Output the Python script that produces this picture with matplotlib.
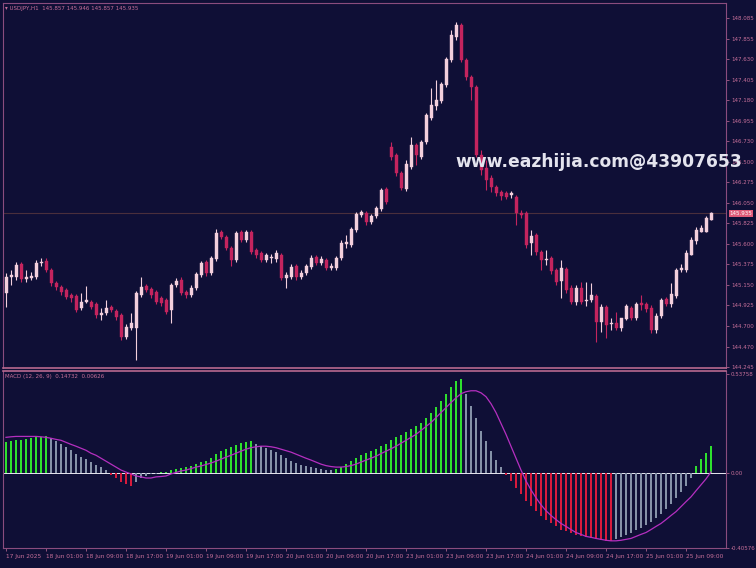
import numpy as np
import matplotlib
matplotlib.use("Agg")
import matplotlib.pyplot as plt

# ---------------- data ----------------
symbol_title = "USDJPY,H1  145.857 145.946 145.857 145.935"
macd_title = "MACD (12, 26, 9)  0.14732  0.00626"

x_labels = ["17 Jun 2025", "18 Jun 01:00", "18 Jun 09:00", "18 Jun 17:00", "19 Jun 01:00",
            "19 Jun 09:00", "19 Jun 17:00", "20 Jun 01:00", "20 Jun 09:00", "20 Jun 17:00",
            "23 Jun 01:00", "23 Jun 09:00", "23 Jun 17:00", "24 Jun 01:00", "24 Jun 09:00",
            "24 Jun 17:00", "25 Jun 01:00", "25 Jun 09:00"]
x_label_step = 8

price_ticks = [148.085, 147.855, 147.630, 147.405, 147.180, 146.955, 146.730, 146.500,
               146.275, 146.050, 145.825, 145.600, 145.375, 145.150, 144.925, 144.700,
               144.470, 144.245]
last_price = 145.935
macd_ticks = [0.53758, 0.0, -0.40576]
macd_tick_labels = ["0.53758", "0.00", "-0.40576"]

opens = [145.059, 145.235, 145.235, 145.378, 145.213, 145.224, 145.235, 145.389, 145.411, 145.312,
         145.169, 145.125, 145.092, 145.037, 145.026, 144.894, 144.960, 144.960, 144.938, 144.817,
         144.839, 144.905, 144.861, 144.817, 144.575, 144.674, 144.674, 145.037, 145.136, 145.103,
         145.070, 145.004, 144.982, 144.872, 145.147, 145.202, 145.070, 145.037, 145.114, 145.257,
         145.400, 145.279, 145.433, 145.730, 145.675, 145.554, 145.422, 145.730, 145.642, 145.730,
         145.532, 145.499, 145.422, 145.444, 145.433, 145.477, 145.224, 145.235, 145.356, 145.235,
         145.279, 145.345, 145.455, 145.389, 145.422, 145.334, 145.334, 145.444, 145.598, 145.587,
         145.752, 145.917, 145.939, 145.840, 145.906, 145.983, 146.203, 146.665, 146.577, 146.379,
         146.203, 146.445, 146.687, 146.555, 146.720, 146.984, 147.116, 147.171, 147.347, 147.622,
         147.875, 148.007, 147.622, 147.435, 147.325, 146.577, 146.434, 146.324, 146.225, 146.170,
         146.159, 146.137, 146.115, 145.939, 145.939, 145.609, 145.697, 145.510, 145.422, 145.444,
         145.312, 145.191, 145.323, 145.114, 144.960, 145.114, 144.971, 144.982, 145.026, 144.740,
         144.905, 144.718, 144.729, 144.674, 144.773, 144.894, 144.784, 144.949, 144.938, 144.894,
         144.652, 144.806, 144.993, 144.938, 145.026, 145.312, 145.312, 145.477, 145.631, 145.730,
         145.730, 145.857]
closes = [145.235, 145.257, 145.367, 145.213, 145.235, 145.246, 145.389, 145.400, 145.312, 145.169,
          145.125, 145.070, 145.015, 145.004, 144.872, 144.960, 144.982, 144.905, 144.817, 144.839,
          144.894, 144.872, 144.795, 144.575, 144.685, 144.729, 145.059, 145.125, 145.092, 145.037,
          144.960, 144.949, 144.850, 145.147, 145.191, 145.059, 145.037, 145.114, 145.268, 145.389,
          145.279, 145.444, 145.719, 145.675, 145.554, 145.422, 145.719, 145.642, 145.730, 145.510,
          145.477, 145.422, 145.477, 145.455, 145.499, 145.224, 145.257, 145.345, 145.235, 145.279,
          145.356, 145.444, 145.389, 145.433, 145.334, 145.356, 145.444, 145.609, 145.620, 145.763,
          145.928, 145.950, 145.840, 145.906, 145.994, 146.192, 146.060, 146.555, 146.379, 146.214,
          146.478, 146.687, 146.577, 146.720, 147.017, 147.127, 147.182, 147.358, 147.633, 147.897,
          148.007, 147.622, 147.435, 147.325, 146.577, 146.412, 146.302, 146.225, 146.159, 146.126,
          146.115, 146.159, 145.939, 145.917, 145.587, 145.686, 145.510, 145.422, 145.433, 145.301,
          145.180, 145.334, 145.092, 144.960, 145.114, 144.960, 144.982, 145.037, 144.740, 144.905,
          144.707, 144.729, 144.674, 144.784, 144.916, 144.784, 144.938, 144.927, 144.883, 144.652,
          144.806, 144.982, 144.938, 145.048, 145.312, 145.334, 145.499, 145.642, 145.752, 145.774,
          145.884, 145.935]
highs = [145.279, 145.312, 145.400, 145.400, 145.312, 145.290, 145.422, 145.444, 145.444, 145.334,
         145.191, 145.147, 145.114, 145.059, 145.048, 145.059, 145.136, 144.982, 144.960, 144.894,
         144.982, 144.927, 144.883, 144.839, 144.718, 144.839, 145.081, 145.235, 145.158, 145.125,
         145.092, 145.026, 145.004, 145.169, 145.224, 145.235, 145.092, 145.147, 145.290, 145.411,
         145.422, 145.466, 145.763, 145.752, 145.697, 145.576, 145.741, 145.752, 145.752, 145.752,
         145.554, 145.521, 145.499, 145.488, 145.532, 145.499, 145.290, 145.378, 145.378, 145.312,
         145.378, 145.477, 145.477, 145.466, 145.444, 145.389, 145.466, 145.642, 145.697, 145.785,
         145.950, 145.972, 145.961, 145.928, 146.016, 146.214, 146.225, 146.720, 146.599, 146.401,
         146.522, 146.775, 146.709, 146.742, 147.039, 147.314, 147.402, 147.380, 147.655, 147.952,
         148.040, 148.029, 147.644, 147.457, 147.347, 146.632, 146.522, 146.357, 146.247, 146.192,
         146.181, 146.181, 146.137, 145.972, 145.961, 145.752, 145.719, 145.532, 145.532, 145.466,
         145.334, 145.422, 145.345, 145.147, 145.147, 145.180, 145.180, 145.169, 145.048, 144.938,
         144.927, 144.784, 144.850, 144.784, 144.938, 144.916, 144.960, 145.037, 144.960, 144.927,
         144.839, 145.004, 145.015, 145.169, 145.334, 145.378, 145.532, 145.675, 145.785, 145.807,
         145.906, 145.946]
lows = [144.905, 145.147, 145.202, 145.180, 145.180, 145.202, 145.213, 145.356, 145.290, 145.136,
        145.092, 145.037, 144.993, 144.960, 144.850, 144.872, 144.949, 144.883, 144.784, 144.762,
        144.817, 144.850, 144.762, 144.542, 144.553, 144.652, 144.322, 145.015, 145.070, 145.004,
        144.938, 144.916, 144.828, 144.729, 145.125, 145.037, 145.004, 145.015, 145.092, 145.235,
        145.246, 145.257, 145.411, 145.653, 145.532, 145.356, 145.400, 145.620, 145.620, 145.488,
        145.444, 145.400, 145.400, 145.389, 145.400, 145.202, 145.114, 145.213, 145.202, 145.213,
        145.257, 145.323, 145.367, 145.367, 145.312, 145.312, 145.312, 145.422, 145.554, 145.565,
        145.730, 145.895, 145.807, 145.818, 145.884, 145.961, 146.038, 146.522, 146.346, 146.192,
        146.181, 146.423, 146.467, 146.533, 146.698, 146.962, 147.072, 147.149, 147.325, 147.600,
        147.842, 147.600, 147.402, 147.182, 146.555, 146.357, 146.192, 146.170, 146.126, 146.082,
        146.093, 146.104, 145.807, 145.884, 145.554, 145.477, 145.477, 145.312, 145.367, 145.268,
        145.147, 145.004, 145.059, 144.938, 144.927, 144.938, 144.916, 144.960, 144.520, 144.630,
        144.564, 144.652, 144.652, 144.641, 144.762, 144.762, 144.762, 144.872, 144.850, 144.619,
        144.619, 144.784, 144.916, 144.905, 145.004, 145.290, 145.290, 145.492, 145.598, 145.730,
        145.741, 145.857]

macd_hist = [0.166, 0.172, 0.177, 0.180, 0.182, 0.188, 0.193, 0.196, 0.198, 0.188,
             0.172, 0.155, 0.139, 0.123, 0.102, 0.086, 0.075, 0.059, 0.043, 0.032,
             0.016, -0.011, -0.027, -0.048, -0.059, -0.070, -0.048, -0.027, -0.016, -0.008,
             -0.003, 0.005, 0.008, 0.016, 0.021, 0.027, 0.032, 0.038, 0.048, 0.059,
             0.067, 0.080, 0.102, 0.118, 0.129, 0.139, 0.150, 0.161, 0.169, 0.172,
             0.155, 0.145, 0.134, 0.123, 0.113, 0.096, 0.080, 0.067, 0.056, 0.046,
             0.038, 0.032, 0.027, 0.021, 0.019, 0.016, 0.021, 0.032, 0.048, 0.064,
             0.080, 0.096, 0.107, 0.118, 0.129, 0.145, 0.155, 0.177, 0.193, 0.204,
             0.220, 0.236, 0.252, 0.268, 0.295, 0.327, 0.359, 0.391, 0.429, 0.466,
             0.498, 0.509, 0.429, 0.364, 0.295, 0.230, 0.172, 0.118, 0.070, 0.032,
             -0.011, -0.043, -0.080, -0.113, -0.150, -0.177, -0.204, -0.230, -0.252, -0.273,
             -0.289, -0.306, -0.316, -0.327, -0.338, -0.343, -0.348, -0.354, -0.359, -0.364,
             -0.367, -0.370, -0.359, -0.348, -0.338, -0.327, -0.311, -0.295, -0.279, -0.263,
             -0.241, -0.220, -0.193, -0.166, -0.134, -0.102, -0.070, -0.027, 0.038, 0.075,
             0.107, 0.147]
macd_signal = [0.193, 0.196, 0.198, 0.198, 0.198, 0.198, 0.198, 0.196, 0.193, 0.188,
               0.182, 0.177, 0.166, 0.155, 0.145, 0.134, 0.123, 0.107, 0.096, 0.080,
               0.064, 0.048, 0.032, 0.016, 0.005, -0.005, -0.016, -0.021, -0.027, -0.027,
               -0.021, -0.019, -0.016, -0.005, 0.003, 0.011, 0.016, 0.024, 0.032, 0.038,
               0.046, 0.054, 0.064, 0.075, 0.086, 0.096, 0.107, 0.118, 0.129, 0.137,
               0.142, 0.145, 0.145, 0.142, 0.137, 0.129, 0.121, 0.113, 0.102, 0.091,
               0.080, 0.070, 0.059, 0.048, 0.040, 0.035, 0.032, 0.032, 0.035, 0.040,
               0.048, 0.059, 0.070, 0.080, 0.091, 0.105, 0.118, 0.131, 0.145, 0.161,
               0.177, 0.193, 0.209, 0.230, 0.252, 0.273, 0.300, 0.327, 0.354, 0.381,
               0.407, 0.429, 0.440, 0.445, 0.445, 0.434, 0.413, 0.375, 0.327, 0.268,
               0.209, 0.145, 0.080, 0.016, -0.043, -0.091, -0.134, -0.172, -0.204, -0.230,
               -0.252, -0.273, -0.289, -0.306, -0.322, -0.332, -0.343, -0.348, -0.354, -0.359,
               -0.364, -0.367, -0.367, -0.364, -0.359, -0.354, -0.343, -0.332, -0.322, -0.306,
               -0.289, -0.273, -0.252, -0.230, -0.209, -0.182, -0.155, -0.129, -0.096, -0.064,
               -0.032, 0.006]

watermark = "www.eazhijia.com@43907653"

# ---------------- style ----------------
BG = "#0f0f36"
FRAME = "#8a4c7e"
TXT = "#c8709a"
BULL = "#f3cfdc"
BEAR = "#c4245e"
GREEN = "#2ee02e"
GRAY = "#8592a8"
RED = "#d81a3c"
SIGNAL = "#b52fc0"

o = np.array(opens); c = np.array(closes)
h = np.maximum(np.array(highs), np.maximum(o, c))
l = np.minimum(np.array(lows), np.minimum(o, c))
n = len(c)
xs = np.arange(n)

fig = plt.figure(figsize=(7.56, 5.68), dpi=100, facecolor=BG)
W, H = 756.0, 568.0
def fx(px): return px / W
def fy(py): return 1 - py / H

ax = fig.add_axes([fx(3), fy(368), fx(726) - fx(3), fy(3) - fy(368)], facecolor=BG)
ax2 = fig.add_axes([fx(3), fy(548), fx(726) - fx(3), fy(371) - fy(548)], facecolor=BG)

xlim = (-0.6, 144.0)

# candles
up = c >= o
cols = np.where(up, BULL, BEAR)
ax.vlines(xs, l, h, colors=cols, linewidth=0.8, zorder=2)
body_b = np.minimum(o, c)
body_h = np.maximum(np.abs(c - o), 0.008)
ax.bar(xs, body_h, bottom=body_b, width=0.6, color=cols, edgecolor=cols, linewidth=0.3, zorder=3)

ax.axhline(last_price, color="#4a2f3c", linewidth=0.8, zorder=1)
ax.set_xlim(*xlim)
ax.set_ylim(144.234, 148.249)
ax.yaxis.tick_right()
ax.set_yticks(price_ticks)
ax.set_yticklabels([f"{v:.3f}" for v in price_ticks])
ax.tick_params(axis="y", colors=TXT, labelsize=4.0, length=2, width=0.5, pad=1.5)
ax.tick_params(axis="x", bottom=False, labelbottom=False)
for s in ax.spines.values():
    s.set_color(FRAME); s.set_linewidth(0.8)
ax.spines["bottom"].set_color("#b8688f")
ax.spines["bottom"].set_linewidth(1.2)

# last price tag
ax.text(1.005, last_price, f"{last_price:.3f}", transform=ax.get_yaxis_transform(),
        ha="left", va="center", fontsize=4.0, color="white",
        bbox=dict(boxstyle="square,pad=0.15", fc="#e05a78", ec="none"), zorder=5, clip_on=False)

ax.text(0.003, 0.992, "\u25be " + symbol_title, transform=ax.transAxes, ha="left", va="top",
        fontsize=4.0, color=TXT)

# MACD
hv = np.array(macd_hist)
prev = np.concatenate([[hv[0] - 1e-6], hv[:-1]])
hcols = np.where((hv > 0) & (hv >= prev), GREEN, np.where((hv < 0) & (hv <= prev), RED, GRAY))
ax2.bar(xs, hv, width=0.45, color=hcols, linewidth=0, zorder=2)
ax2.plot(xs, macd_signal, color=SIGNAL, linewidth=0.9, zorder=3)
ax2.axhline(0, color="#e8e8f0", linewidth=0.7, zorder=1)
ax2.set_xlim(*xlim)
ax2.set_ylim(-0.405, 0.552)
ax2.yaxis.tick_right()
ax2.set_yticks(macd_ticks)
ax2.set_yticklabels(macd_tick_labels)
ax2.tick_params(axis="y", colors=TXT, labelsize=4.0, length=2, width=0.5, pad=1.5)
ax2.set_xticks(xs[::x_label_step][:len(x_labels)])
ax2.set_xticklabels(x_labels, ha="left")
ax2.tick_params(axis="x", colors=TXT, labelsize=4.2, length=2, width=0.5, pad=2)
for s in ax2.spines.values():
    s.set_color(FRAME); s.set_linewidth(0.8)
ax2.spines["top"].set_color("#b8688f")
ax2.spines["top"].set_linewidth(1.2)
ax2.text(0.003, 0.985, macd_title, transform=ax2.transAxes, ha="left", va="top",
         fontsize=4.0, color=TXT)

fig.text(fx(455), fy(167), watermark, fontsize=12.3, fontweight="bold", color="#e4e4ee",
         ha="left", va="baseline", family="DejaVu Sans", zorder=10)

fig.savefig("out.png", dpi=100, facecolor=BG)
